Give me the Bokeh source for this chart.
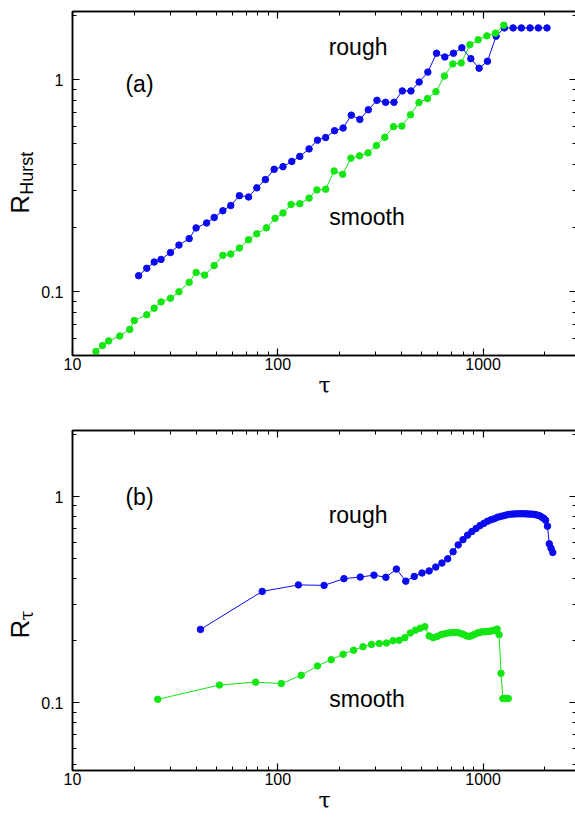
import math
from bokeh.plotting import figure
from bokeh.models import LogAxis, FixedTicker, CustomJSTickFormatter, Label, Range1d
from bokeh.core.properties import value
from bokeh.layouts import column, row
from bokeh.embed import file_html
from bokeh.resources import INLINE

# ---------------- data: panel (a) ----------------
tau_a_rough = [21, 23, 25, 27, 30, 33, 37, 40, 45, 49, 54, 59, 65, 72, 79, 87, 96, 106, 117, 128,
               142, 156, 171, 189, 208, 228, 251, 276, 304, 335, 368, 404, 445, 488, 538, 593, 651,
               717, 788, 871, 956, 1050, 1157, 1269, 1400, 1536, 1693, 1858, 2048]
R_a_rough = [0.119, 0.129, 0.138, 0.142, 0.153, 0.166, 0.178, 0.200, 0.211, 0.224, 0.241, 0.255,
             0.284, 0.280, 0.309, 0.338, 0.378, 0.389, 0.412, 0.435, 0.472, 0.519, 0.534, 0.575,
             0.592, 0.681, 0.650, 0.722, 0.800, 0.783, 0.783, 0.886, 0.886, 0.976, 1.087, 1.334,
             1.281, 1.334, 1.416, 1.258, 1.134, 1.223, 1.607, 1.757, 1.757, 1.757, 1.757, 1.757, 1.757]

tau_a_smooth = [13, 14, 15, 17, 19, 20, 23, 25, 27, 30, 33, 37, 40, 44, 49, 54, 59, 65, 72, 79,
                88, 97, 106, 116, 128, 142, 155, 171, 188, 207, 227, 250, 275, 302, 332, 366, 402,
                443, 487, 536, 589, 648, 712, 782, 862, 946, 1042, 1148, 1261]
R_a_smooth = [0.0522, 0.0557, 0.0586, 0.0618, 0.0664, 0.0731, 0.0778, 0.0836, 0.0895, 0.0931,
              0.100, 0.1107, 0.1233, 0.1198, 0.1329, 0.1485, 0.1506, 0.1607, 0.1758, 0.1876,
              0.2001, 0.222, 0.2352, 0.2581, 0.2601, 0.2765, 0.3023, 0.3046, 0.3711, 0.3581,
              0.4269, 0.4376, 0.4519, 0.4896, 0.5354, 0.6009, 0.6047, 0.6838, 0.7805, 0.815,
              0.879, 1.041, 1.188, 1.201, 1.463, 1.544, 1.612, 1.66, 1.809]

# ---------------- data: panel (b) ----------------
tau_b_rough = [42, 84, 126, 168, 210, 252, 294, 336, 378, 420, 462, 504, 546, 588, 630, 672, 714,
               756, 798, 840, 882, 924, 966, 1008, 1050, 1092, 1134, 1176, 1218, 1260, 1302, 1344,
               1386, 1428, 1470, 1512, 1554, 1596, 1638, 1680, 1722, 1764, 1806, 1848, 1890, 1932,
               1974, 2016, 2058, 2100, 2142, 2184]
R_b_rough = [0.227, 0.347, 0.373, 0.371, 0.400, 0.407, 0.416, 0.406, 0.445, 0.389,
             0.410, 0.426, 0.436, 0.455, 0.476, 0.499, 0.540, 0.583, 0.618, 0.650,
             0.677, 0.700, 0.723, 0.741, 0.759, 0.771, 0.781, 0.794, 0.801, 0.808,
             0.815, 0.820, 0.822, 0.824, 0.825, 0.825, 0.825, 0.825, 0.824, 0.822,
             0.822, 0.820, 0.816, 0.812, 0.805, 0.794, 0.784, 0.767, 0.718, 0.590,
             0.562, 0.536]

tau_b_smooth = [26, 52, 78, 104, 130, 156, 182, 208, 234, 260, 286, 312, 338, 364, 390, 416, 442,
                468, 494, 520, 546, 572, 598, 624, 650, 676, 702, 728, 754, 780, 806, 832, 858,
                884, 910, 936, 962, 988, 1014, 1040, 1066, 1092, 1118, 1144, 1170, 1196, 1222,
                1248, 1274, 1300, 1326]
R_b_smooth = [0.104, 0.122, 0.126, 0.124, 0.136, 0.151, 0.162, 0.172, 0.180, 0.187,
              0.192, 0.194, 0.195, 0.200, 0.201, 0.207, 0.218, 0.225, 0.230, 0.234,
              0.211, 0.207, 0.210, 0.214, 0.216, 0.218, 0.219, 0.219, 0.219, 0.217,
              0.214, 0.211, 0.210, 0.212, 0.215, 0.218, 0.219, 0.221, 0.221, 0.222,
              0.222, 0.223, 0.224, 0.225, 0.228, 0.214, 0.139, 0.105, 0.105, 0.105,
              0.105]

x_major = [10, 100, 1000]
x_minor = [20, 30, 40, 50, 60, 70, 80, 90, 200, 300, 400, 500, 600, 700, 800, 900, 2000]
y_major = [0.1, 1]
y_minor = [0.05, 0.06, 0.07, 0.08, 0.09, 0.2, 0.3, 0.4, 0.5, 0.6, 0.7, 0.8, 0.9, 2]

BLUE = "#0a0af0"
GREEN = "#14e614"
FONT = "Liberation Sans"
LABEL_W = 38
FRAME_W = 504


def style_axis(ax, ticker, show_labels, standoff=3):
    ax.ticker = ticker
    ax.major_tick_in = 7
    ax.major_tick_out = 0
    ax.minor_tick_in = 4
    ax.minor_tick_out = 0
    ax.major_tick_line_color = "black"
    ax.minor_tick_line_color = "black"
    ax.axis_line_color = "black"
    ax.axis_line_width = 1.5
    ax.major_tick_line_width = 1.2
    ax.minor_tick_line_width = 1
    ax.major_label_text_font = FONT
    ax.major_label_text_font_size = "16px"
    ax.major_label_text_color = "black"
    if show_labels:
        ax.formatter = CustomJSTickFormatter(code="return String(tick);")
        ax.major_label_standoff = standoff
    else:
        ax.formatter = CustomJSTickFormatter(code="return '';")
        ax.major_label_standoff = 0


def make_panel(ymin, ymax, frame_h, top_border):
    p = figure(x_axis_type="log", y_axis_type="log",
               x_range=Range1d(10, 2850), y_range=Range1d(ymin, ymax),
               frame_width=FRAME_W, frame_height=frame_h,
               min_border_left=575 - LABEL_W - FRAME_W - 1, min_border_right=1,
               min_border_top=top_border, min_border_bottom=0,
               output_backend="svg", toolbar_location=None)
    p.grid.visible = False
    p.outline_line_color = "black"
    p.outline_line_width = 1.5
    p.background_fill_color = "white"
    p.border_fill_color = "white"

    style_axis(p.xaxis[0], FixedTicker(ticks=x_major, minor_ticks=x_minor), True, 2)
    style_axis(p.yaxis[0], FixedTicker(ticks=y_major, minor_ticks=y_minor), True, 9)
    p.xaxis[0].axis_label = "τ"
    p.xaxis[0].axis_label_text_font = "DejaVu Serif"
    p.xaxis[0].axis_label_text_font_style = "normal"
    p.xaxis[0].axis_label_text_font_size = "22px"
    p.xaxis[0].axis_label_standoff = 0
    p.xaxis[0].axis_label_text_color = "black"

    top = LogAxis()
    style_axis(top, FixedTicker(ticks=x_major, minor_ticks=x_minor), False)
    p.add_layout(top, "above")
    right = LogAxis()
    style_axis(right, FixedTicker(ticks=y_major, minor_ticks=y_minor), False)
    p.add_layout(right, "right")
    return p


def make_label_fig(ymin, ymax, frame_h, top_border):
    q = figure(x_axis_type="linear", y_axis_type="log",
               x_range=Range1d(0, LABEL_W), y_range=Range1d(ymin, ymax),
               frame_width=LABEL_W, frame_height=frame_h,
               min_border_left=0, min_border_right=0, min_border_top=top_border,
               min_border_bottom=0, x_axis_location=None, y_axis_location=None,
               output_backend="svg", toolbar_location=None)
    q.grid.visible = False
    q.outline_line_color = None
    q.background_fill_color = "white"
    q.border_fill_color = "white"
    return q


def add_series(p, x, y, color):
    p.line(x, y, line_color=color, line_width=1)
    p.scatter(x, y, size=6.5, fill_color=color, line_color=color)


def add_text(p, x, y, text, size="23px"):
    p.add_layout(Label(x=x, y=y, text=text, text_font=FONT, text_font_size=size,
                       text_align="center", text_baseline="middle", text_color="black"))


def add_ylabel(q, y_main, y_sub, main, sub, sub_font):
    q.text(x=[19], y=[y_main], text=[main], angle=math.pi / 2,
           text_font=value(FONT), text_font_size="26px", text_align="left",
           text_baseline="middle", text_color="black")
    q.text(x=[26], y=[y_sub], text=[sub], angle=math.pi / 2,
           text_font=value(sub_font), text_font_size="18px", text_align="left",
           text_baseline="middle", text_color="black")


# ---------------- panel (a) ----------------
A_RANGE = (0.05, 2.1)
pa = make_panel(*A_RANGE, 344, 11)
add_series(pa, tau_a_rough, R_a_rough, BLUE)
add_series(pa, tau_a_smooth, R_a_smooth, GREEN)
add_text(pa, 21.2, 0.96, "(a)")
add_text(pa, 246, 1.43, "rough")
add_text(pa, 272, 0.226, "smooth")
la = make_label_fig(*A_RANGE, 344, 11)
add_ylabel(la, 0.2335, 0.287, "R", "Hurst", FONT)

# ---------------- panel (b) ----------------
B_RANGE = (0.047, 2.09)
pb = make_panel(*B_RANGE, 340, 30)
add_series(pb, tau_b_rough, R_b_rough, BLUE)
add_series(pb, tau_b_smooth, R_b_smooth, GREEN)
add_text(pb, 21.2, 1.0, "(b)")
add_text(pb, 246, 0.813, "rough")
add_text(pb, 272, 0.1043, "smooth")
lb = make_label_fig(*B_RANGE, 340, 30)
add_ylabel(lb, 0.205, 0.251, "R", "τ", "DejaVu Serif")

layout = column(row(la, pa), row(lb, pb))
open("out.html", "w").write(file_html(layout, INLINE))
